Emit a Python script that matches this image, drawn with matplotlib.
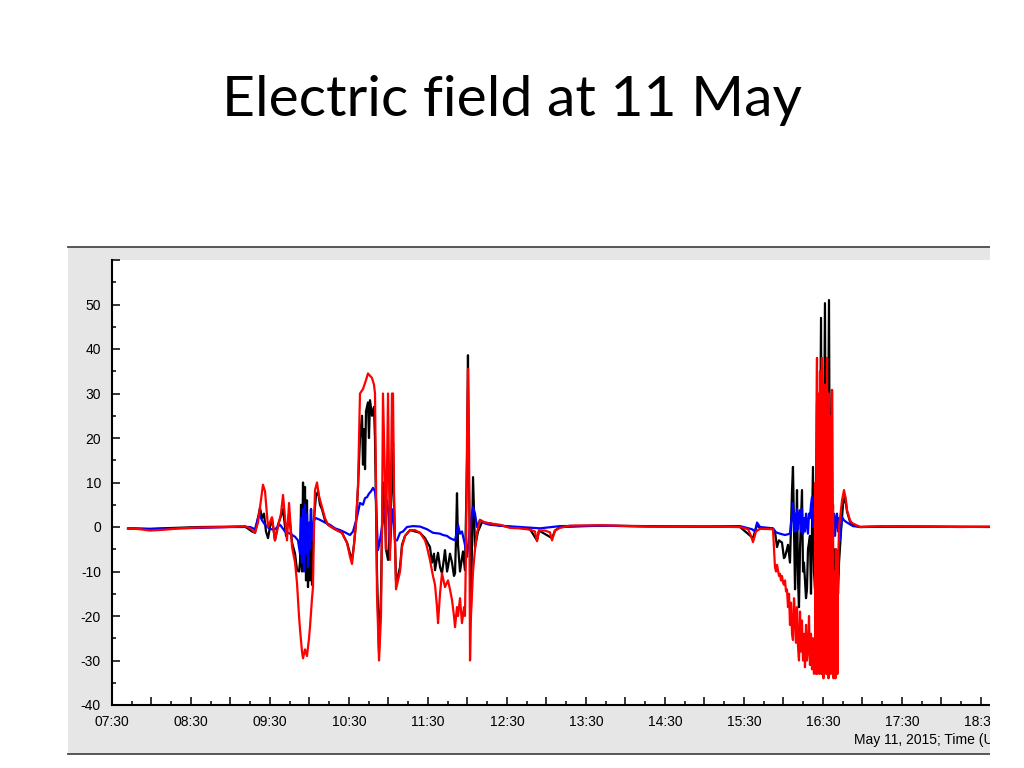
import matplotlib
matplotlib.use("Agg")
import matplotlib.pyplot as plt
from matplotlib.patches import Rectangle
from matplotlib.lines import Line2D
from matplotlib.ticker import MultipleLocator, FuncFormatter

plt.rcParams['font.family'] = ['Liberation Sans', 'DejaVu Sans']

# time in decimal hours (UT), field values
t_black = [7.703, 7.981, 8.614, 9.184, 9.272, 9.310, 9.348, 9.373, 9.399, 9.424, 9.449, 9.475, 9.500,
           9.525, 9.563, 9.601, 9.639, 9.665, 9.703, 9.741, 9.779, 9.817, 9.842, 9.867, 9.880, 9.893,
           9.905, 9.918, 9.930, 9.943, 9.956, 9.968, 9.981, 9.994, 10.006, 10.019, 10.032, 10.057,
           10.082, 10.108, 10.133, 10.158, 10.196, 10.234, 10.323, 10.411, 10.475, 10.513, 10.538,
           10.563, 10.589, 10.614, 10.639, 10.665, 10.677, 10.690, 10.703, 10.715, 10.740, 10.753,
           10.766, 10.791, 10.816, 10.829, 10.842, 10.854, 10.880, 10.905, 10.918, 10.930, 10.956,
           10.968, 10.994, 11.019, 11.044, 11.057, 11.070, 11.095, 11.120, 11.146, 11.171, 11.209,
           11.272, 11.399, 11.462, 11.525, 11.551, 11.576, 11.589, 11.614, 11.627, 11.652, 11.677,
           11.703, 11.715, 11.741, 11.753, 11.778, 11.804, 11.829, 11.842, 11.854, 11.867, 11.880,
           11.905, 11.930, 11.943, 11.968, 11.994, 12.006, 12.019, 12.044, 12.070, 12.095, 12.133,
           12.184, 12.285, 12.411, 12.791, 12.880, 12.905, 13.070, 13.108, 13.171, 13.677, 14.943,
           15.449, 15.614, 15.665, 15.703, 15.867, 15.892, 15.918, 15.943, 15.981, 16.006, 16.019,
           16.044, 16.057, 16.082, 16.108, 16.120, 16.146, 16.158, 16.171, 16.184, 16.196, 16.209,
           16.234, 16.247, 16.259, 16.285, 16.297, 16.310, 16.335, 16.348, 16.373, 16.386, 16.399,
           16.424, 16.437, 16.449, 16.475, 16.487, 16.500, 16.525, 16.538, 16.551, 16.576, 16.589,
           16.614, 16.627, 16.652, 16.677, 16.690, 16.703, 16.728, 16.753, 16.778, 16.804, 16.842,
           16.880, 16.968, 17.475, 18.750]
e_black = [-0.3, -0.4, 0, 0.1, -1, -1.3, 2, 4.3, 2, 3, -1, -2.5, 0,
           2, -3, 0.5, 2.5, 4, -2, 3, -3.5, -6, -9.7, -10, -8, 5,
           -10, 10, -5, 9, -12, 6, -13.5, 0, -12, 4, -13, 2,
           7, 8, 5, 4, 1.5, 0.5, -0.5, -1.3, -3.5, -6, -7.5,
           -4, 1, 9, 20, 25, 14, 22, 13, 26, 28, 20,
           28.5, 25, 27, 20, 5, -10, -28, -15, 0, 10, 3,
           -5, -7.4, 0, 10, 19, 5, -12, -11, -9, -4, -2,
           -0.7, -1.3, -2.5, -4.5, -8, -6, -9.7, -7, -5.8, -9, -10.4,
           -7, -5.2, -10, -9, -6, -8, -11, -10.4, -3, 7.6, -4,
           -10, -7, -5.5, -9.7, 15, 38.6, 10, -18, 11.2, -4.5, -1,
           1.1, 0.8, 0.3, -0.5, -3, -0.8, -2.5, -0.8, 0, 0.3, 0.1,
           0, -2.5, 0.5, -0.3, -0.4, -1, -4.5, -3, -3.5, -7, -6.7,
           -5, -4, -8, 8.3, 13.5, -14, -5, 8.3, -12, -18, -5,
           8.3, -10, -8, -16, -14, -5, -2, -15, 13.5, -10, -14,
           27.9, -10, -20, 47, -12, -18, 50.3, -10, -20, 51, -8,
           30.8, -20, -5, -5.2, -15, -8, -1, 5, 7, 3.5, 1.2,
           0.5, 0, 0.1, 0]

t_blue = [7.703, 7.981, 8.297, 8.614, 8.994, 9.247, 9.310, 9.348, 9.373, 9.399, 9.437, 9.500, 9.563,
          9.627, 9.690, 9.753, 9.817, 9.854, 9.880, 9.893, 9.905, 9.918, 9.930, 9.943, 9.956, 9.968,
          9.981, 9.994, 10.006, 10.019, 10.032, 10.057, 10.082, 10.133, 10.196, 10.259, 10.323,
          10.386, 10.449, 10.513, 10.551, 10.601, 10.639, 10.677, 10.703, 10.728, 10.753, 10.778,
          10.804, 10.829, 10.842, 10.854, 10.867, 10.892, 10.918, 10.943, 10.981, 11.006, 11.019,
          11.044, 11.057, 11.082, 11.108, 11.146, 11.184, 11.234, 11.310, 11.399, 11.487, 11.563,
          11.652, 11.690, 11.741, 11.778, 11.817, 11.842, 11.867, 11.880, 11.905, 11.930, 11.968,
          11.994, 12.032, 12.070, 12.095, 12.120, 12.158, 12.222, 12.285, 12.411, 12.665, 12.918,
          13.171, 13.677, 14.310, 14.943, 15.449, 15.601, 15.639, 15.665, 15.703, 15.867, 15.905,
          15.956, 16.019,
          16.082, 16.095, 16.108, 16.120, 16.133, 16.146, 16.158, 16.171, 16.184, 16.196, 16.209,
          16.222, 16.234, 16.247, 16.259, 16.272, 16.285, 16.297, 16.310, 16.323, 16.335, 16.348,
          16.361, 16.373, 16.386, 16.399, 16.411, 16.424, 16.437, 16.449, 16.462, 16.475, 16.487,
          16.500, 16.513, 16.525, 16.538, 16.551, 16.563, 16.576, 16.589, 16.601, 16.614, 16.627,
          16.639, 16.652, 16.665, 16.677, 16.690, 16.703, 16.715, 16.728, 16.741,
          16.766, 16.804, 16.842, 16.880, 16.968, 17.475, 18.750]
e_blue = [-0.3, -0.5, -0.3, -0.2, 0, 0, -0.5, 2, 2.5, 1.5, 0.5, -0.5, -0.5,
          0.5, -1, -1.5, -2.2, -3, -6, 2, -8, 4, -10, 5, -6, 3,
          -9, 1, -5, 4, -3, 1.5, 2, 1.6, 1, 0.5, -0.3,
          -0.7, -1.2, -1.8, -1, 2.2, 5.4, 5, 6.5, 6.7, 7.5, 8,
          8.8, 8, 6, 0, -5.2, -3, 0, 3, 6, 2, -5,
          3, 4, -3, -3, -1.3, -1, 0, 0.2, 0.1, -0.5, -1.3,
          -1.5, -1.8, -2, -2.5, -2.8, -3, -1, 0.5, -1.5, -1, -4,
          -6.7, 0, 4.5, 3, 0, 1.6, 0.8, 0.5, 0.3, 0, -0.3,
          0.2, 0.3, 0.1, 0.1, 0.2, -0.5, -1, 1, 0, -0.3, -1.2,
          -1.5, -1.8,
          -1.5, 1, 2.2, 5.4, -1, 3, -1, 4, -0.5, 3, 3.8,
          -1, 4, -1.5, 2, -1, 3, 1, -1.5, 3, 2, 5,
          6.7, 0, 4, -1, 3, -1, 4, 0, 5, 2, 9,
          11, 6, 3, 7, 8, 2, 5, -1, 4, 1, -2,
          3, -2, 2, 3, -1, 2, -3, 0, 2.2,
          1.5, 1, 0.6, 0.2, 0, 0.1, 0]

t_red = [7.703, 7.854, 7.981, 8.171, 8.361, 8.614, 8.994, 9.184, 9.247, 9.310, 9.348, 9.373, 9.411,
         9.437, 9.475, 9.525, 9.563, 9.601, 9.639, 9.665, 9.690, 9.715, 9.741, 9.779, 9.817, 9.842,
         9.867, 9.880, 9.905, 9.918, 9.943, 9.968, 9.994, 10.006, 10.032, 10.044, 10.057, 10.070,
         10.095, 10.120, 10.158, 10.196, 10.234, 10.323, 10.411, 10.475, 10.513, 10.538, 10.563,
         10.589, 10.614, 10.627, 10.639, 10.677, 10.715, 10.740, 10.766, 10.791, 10.816, 10.829,
         10.842, 10.854, 10.880, 10.905, 10.918, 10.930, 10.956, 10.968, 10.994, 11.019, 11.044,
         11.057, 11.070, 11.095, 11.120, 11.146, 11.171, 11.209, 11.272, 11.335, 11.399, 11.462,
         11.487, 11.525, 11.563, 11.589, 11.614, 11.627, 11.652, 11.677, 11.715, 11.753, 11.778,
         11.804, 11.829, 11.842, 11.867, 11.880, 11.905, 11.930, 11.956, 11.968, 11.981, 11.994,
         12.006, 12.019, 12.032, 12.044, 12.070, 12.095, 12.120, 12.158, 12.222, 12.285, 12.411,
         12.538, 12.665, 12.791, 12.854, 12.880, 12.905, 12.981, 13.044, 13.070, 13.108, 13.171,
         13.297, 13.677, 14.310, 14.943, 15.449, 15.551, 15.589, 15.614, 15.652, 15.703, 15.867,
         15.892, 15.905, 15.918, 15.930, 15.943, 15.956, 15.968, 15.981, 15.994, 16.006, 16.019,
         16.032, 16.044, 16.057, 16.070, 16.082, 16.095, 16.108, 16.120, 16.133, 16.146, 16.158,
         16.171, 16.184, 16.196, 16.209, 16.222, 16.234, 16.247, 16.259, 16.272, 16.285, 16.297,
         16.310, 16.323, 16.335, 16.348, 16.361, 16.373, 16.386,
         16.399, 16.405, 16.411, 16.418, 16.424, 16.430, 16.437, 16.443, 16.449, 16.456, 16.462,
         16.468, 16.475, 16.481, 16.487, 16.494, 16.500, 16.506, 16.513, 16.519, 16.525, 16.532,
         16.538, 16.544, 16.551, 16.557, 16.563, 16.570, 16.576, 16.582, 16.589, 16.595, 16.601,
         16.608, 16.614, 16.620, 16.627, 16.633, 16.639, 16.646, 16.652, 16.658, 16.665, 16.671,
         16.677, 16.684, 16.690, 16.696, 16.703,
         16.741, 16.766, 16.791, 16.804, 16.842, 16.867, 16.968, 17.222, 17.728, 18.234, 18.750]
e_red = [-0.3, -0.5, -0.8, -0.6, -0.3, -0.1, 0, 0.2, -0.3, -1.3, 1, 4.3, 9.5,
         8, 0, 2.2, -3, 0, 3, 7.2, 2, -3, 5.4, -4.5, -8, -12.6,
         -20, -23, -28, -29.5, -27.5, -29, -25, -22.5, -16, -13.5, 0, 8.3,
         10, 7, 4.5, 2, 0.5, -0.5, -1.3, -3.6, -6.7, -8.3, -4,
         1, 9, 20, 30, 31, 33, 34.5, 34, 33.5, 32, 30,
         10, -14.8, -30, -20, 0, 30, 10, -5, 30, -7.4, 30,
         30, 7.6, -14, -12, -10, -4.5, -2, -0.7, -0.7, -1.3, -3,
         -4.5, -7.4, -11, -13, -18, -21.6, -15, -10.4, -13.5, -12, -14,
         -16.4, -20, -22.5, -18, -20, -16, -21.6, -18, -20, -5, 19.6,
         35.5, 20, -30, -20, -10, -5, -1.3, 1.6, 1, 0.8, 0.5,
         -0.2, -0.3, -0.6, -1, -3.2, -0.8, -0.8, -1.2, -3, -0.8, -0.2,
         0.3, 0.4, 0.1, 0.1, 0, -0.5, -2, -3.4, -1, -0.4, -0.5,
         -9, -10, -8.5, -9.7, -11, -10.5, -12, -11, -12.5, -13, -12,
         -14.5, -14, -18, -15, -22, -17, -24, -25.4, -16, -20, -26,
         -18, -27, -30, -19, -28, -21, -30, -24, -31.5, -22, -30,
         -27.6, -20, -31, -24, -32, -25, -33,
         -29, 10, -33, 25, 38, -33, 30, -32, 20, -33, 35,
         -30, 28, -33, 38, -33, 30, -34, 15, -33, 32, -30,
         25, -33, 38, -33, 20, -34, 30, -32, 10, -33, 25,
         -30, 30.8, -33, 5, -34, -10, -33.7, -20, -34, -5, -33,
         -15, -33, -10, -5, 0,
         6, 8.3, 6, 3.8, 1.5, 0.9, 0, 0.2, 0.1, 0, 0.1]

y_ticks = [-40, -30, -20, -10, 0, 10, 20, 30, 40, 50, 60]
y_labels = ['-40', '-30', '-20', '-10', '0', '10', '20', '30', '40', '50', '']

fig = plt.figure(figsize=(10.24, 7.68), dpi=100)

# grey frame of the pasted screenshot
fig.patches.append(Rectangle((68/1024, 1-754/768), 922/1024, 507/768, transform=fig.transFigure,
                             fc='#e6e6e6', ec='none', zorder=-2))
for yy in [1-247/768, 1-754/768]:
    fig.lines.append(Line2D([68/1024, 990/1024], [yy, yy], transform=fig.transFigure,
                            color='#4a4a4a', lw=1.3, zorder=-1))

ax = fig.add_axes([112/1024, 63/768, 878/1024, 445/768])
ax.set_facecolor('white')
ax.plot(t_black, e_black, color='black', lw=1.6)
ax.plot(t_blue, e_blue, color='#0000ff', lw=1.6)
ax.plot(t_red, e_red, color='#ff0000', lw=1.6)

ax.set_xlim(7.5, 18.614)
ax.set_ylim(-40, 60)
ax.spines['top'].set_visible(False)
ax.spines['right'].set_visible(False)
ax.spines['left'].set_linewidth(1.5)
ax.spines['bottom'].set_linewidth(1.5)

ax.set_yticks(y_ticks)
ax.set_yticklabels(y_labels)
ax.yaxis.set_minor_locator(MultipleLocator(5))
ax.xaxis.set_major_locator(MultipleLocator(0.5))
ax.xaxis.set_minor_locator(MultipleLocator(0.25))

def hhmm(x, pos):
    h = int(x)
    m = int(round((x - h) * 60))
    if m != 30:
        return ''
    return '%02d:%02d' % (h, m)

ax.xaxis.set_major_formatter(FuncFormatter(hhmm))
ax.tick_params(which='major', direction='in', length=5.5, width=1.1, labelsize=10, colors='black')
ax.tick_params(which='minor', direction='in', length=2.8, width=1.1)
ax.tick_params(axis='y', which='major', pad=8)
ax.tick_params(axis='x', which='major', pad=7)

fig.text(854/1024, 1-740/768, 'May 11, 2015; Time (UT)', ha='left', va='center', fontsize=10)

# the screenshot is cut off on the right
fig.patches.append(Rectangle((990/1024, 0), 34/1024, 0.75, transform=fig.transFigure,
                             fc='white', ec='none', zorder=10))

fig.text(0.5, 1-100/768, 'Electric field at 11 May', ha='center', va='center',
         fontsize=41, family='Lato', color='black')

fig.savefig('out.png', dpi=100)
